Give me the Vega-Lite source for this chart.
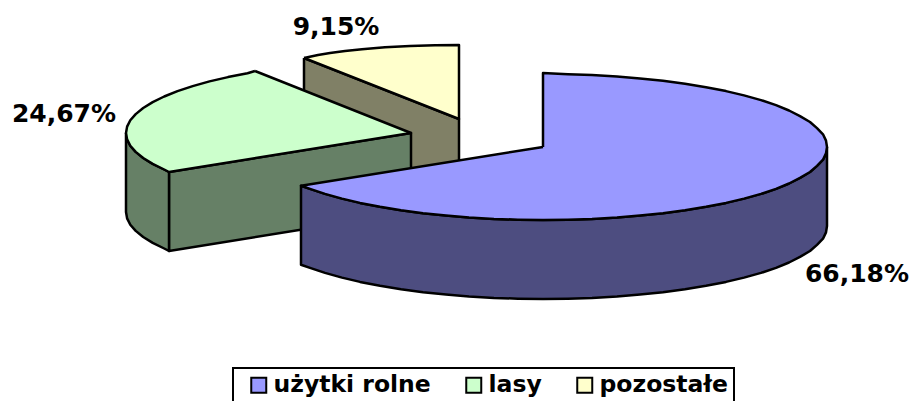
{
"$schema":"https://vega.github.io/schema/vega-lite/v6.json",
"width":912,"height":401,"padding":0,"autosize":{"type":"none"},
"background":"white",
"config":{"view":{"stroke":null},"legend":{"strokeWidth":2}},
"layer":[
{"data":{"values":[
{"part":"pozostałe bok","n":1,"x":304,"y":58},{"part":"pozostałe bok","n":2,"x":459,"y":119},{"part":"pozostałe bok","n":3,"x":459,"y":198},{"part":"pozostałe bok","n":4,"x":304,"y":137},{"part":"pozostałe bok","n":5,"x":304,"y":58},
{"part":"pozostałe","n":1,"x":304,"y":58},{"part":"pozostałe","n":2,"x":318,"y":55},{"part":"pozostałe","n":3,"x":330,"y":53},{"part":"pozostałe","n":4,"x":345,"y":51},{"part":"pozostałe","n":5,"x":362,"y":49.3},{"part":"pozostałe","n":6,"x":385,"y":47.2},{"part":"pozostałe","n":7,"x":410,"y":46},{"part":"pozostałe","n":8,"x":435,"y":45.2},{"part":"pozostałe","n":9,"x":459,"y":45},{"part":"pozostałe","n":10,"x":459,"y":119},{"part":"pozostałe","n":11,"x":304,"y":58},
{"part":"lasy bok wewn","n":1,"x":169,"y":172},{"part":"lasy bok wewn","n":2,"x":411,"y":133},{"part":"lasy bok wewn","n":3,"x":411,"y":212},{"part":"lasy bok wewn","n":4,"x":169,"y":251},{"part":"lasy bok wewn","n":5,"x":169,"y":172},
{"part":"lasy bok","n":1,"x":126,"y":133},{"part":"lasy bok","n":2,"x":127.1,"y":139.4},{"part":"lasy bok","n":3,"x":130.3,"y":145.7},{"part":"lasy bok","n":4,"x":135.7,"y":151.9},{"part":"lasy bok","n":5,"x":143.2,"y":158},{"part":"lasy bok","n":6,"x":152.7,"y":163.9},{"part":"lasy bok","n":7,"x":164.2,"y":169.5},{"part":"lasy bok","n":8,"x":169,"y":172},{"part":"lasy bok","n":9,"x":169,"y":251},{"part":"lasy bok","n":10,"x":164.2,"y":248.5},{"part":"lasy bok","n":11,"x":152.7,"y":242.9},{"part":"lasy bok","n":12,"x":143.2,"y":237},{"part":"lasy bok","n":13,"x":135.7,"y":230.9},{"part":"lasy bok","n":14,"x":130.3,"y":224.7},{"part":"lasy bok","n":15,"x":127.1,"y":218.4},{"part":"lasy bok","n":16,"x":126,"y":212},{"part":"lasy bok","n":17,"x":126,"y":133},
{"part":"lasy","n":1,"x":255,"y":71},{"part":"lasy","n":2,"x":247.5,"y":73.2},{"part":"lasy","n":3,"x":228,"y":77.1},{"part":"lasy","n":4,"x":209.5,"y":81.4},{"part":"lasy","n":5,"x":192.7,"y":86.1},{"part":"lasy","n":6,"x":177.5,"y":91.1},{"part":"lasy","n":7,"x":164.2,"y":96.5},{"part":"lasy","n":8,"x":152.7,"y":102.1},{"part":"lasy","n":9,"x":143.2,"y":108},{"part":"lasy","n":10,"x":135.7,"y":114.1},{"part":"lasy","n":11,"x":130.3,"y":120.3},{"part":"lasy","n":12,"x":127.1,"y":126.6},{"part":"lasy","n":13,"x":126,"y":133},{"part":"lasy","n":14,"x":127.1,"y":139.4},{"part":"lasy","n":15,"x":130.3,"y":145.7},{"part":"lasy","n":16,"x":135.7,"y":151.9},{"part":"lasy","n":17,"x":143.2,"y":158},{"part":"lasy","n":18,"x":152.7,"y":163.9},{"part":"lasy","n":19,"x":164.2,"y":169.5},{"part":"lasy","n":20,"x":169,"y":172},{"part":"lasy","n":21,"x":411,"y":133},{"part":"lasy","n":22,"x":255,"y":71},
{"part":"użytki rolne bok","n":1,"x":827,"y":147},{"part":"użytki rolne bok","n":2,"x":826,"y":153.4},{"part":"użytki rolne bok","n":3,"x":823,"y":159.7},{"part":"użytki rolne bok","n":4,"x":817,"y":165.9},{"part":"użytki rolne bok","n":5,"x":810,"y":172},{"part":"użytki rolne bok","n":6,"x":800,"y":177.9},{"part":"użytki rolne bok","n":7,"x":789,"y":183.5},{"part":"użytki rolne bok","n":8,"x":776,"y":188.9},{"part":"użytki rolne bok","n":9,"x":761,"y":193.9},{"part":"użytki rolne bok","n":10,"x":744,"y":198.6},{"part":"użytki rolne bok","n":11,"x":726,"y":202.9},{"part":"użytki rolne bok","n":12,"x":706,"y":206.8},{"part":"użytki rolne bok","n":13,"x":685,"y":210.2},{"part":"użytki rolne bok","n":14,"x":663,"y":213.2},{"part":"użytki rolne bok","n":15,"x":640,"y":215.6},{"part":"użytki rolne bok","n":16,"x":617,"y":217.5},{"part":"użytki rolne bok","n":17,"x":592,"y":218.9},{"part":"użytki rolne bok","n":18,"x":568,"y":219.7},{"part":"użytki rolne bok","n":19,"x":543,"y":220},{"part":"użytki rolne bok","n":20,"x":518,"y":219.7},{"part":"użytki rolne bok","n":21,"x":494,"y":218.9},{"part":"użytki rolne bok","n":22,"x":469,"y":217.5},{"part":"użytki rolne bok","n":23,"x":446,"y":215.6},{"part":"użytki rolne bok","n":24,"x":423,"y":213.2},{"part":"użytki rolne bok","n":25,"x":401,"y":210.2},{"part":"użytki rolne bok","n":26,"x":380,"y":206.8},{"part":"użytki rolne bok","n":27,"x":360,"y":202.9},{"part":"użytki rolne bok","n":28,"x":342,"y":198.6},{"part":"użytki rolne bok","n":29,"x":325,"y":193.9},{"part":"użytki rolne bok","n":30,"x":310,"y":188.9},{"part":"użytki rolne bok","n":31,"x":301,"y":185.7},{"part":"użytki rolne bok","n":32,"x":301,"y":264.7},{"part":"użytki rolne bok","n":33,"x":310,"y":267.9},{"part":"użytki rolne bok","n":34,"x":325,"y":272.9},{"part":"użytki rolne bok","n":35,"x":342,"y":277.6},{"part":"użytki rolne bok","n":36,"x":360,"y":281.9},{"part":"użytki rolne bok","n":37,"x":380,"y":285.8},{"part":"użytki rolne bok","n":38,"x":401,"y":289.2},{"part":"użytki rolne bok","n":39,"x":423,"y":292.2},{"part":"użytki rolne bok","n":40,"x":446,"y":294.6},{"part":"użytki rolne bok","n":41,"x":469,"y":296.5},{"part":"użytki rolne bok","n":42,"x":494,"y":297.9},{"part":"użytki rolne bok","n":43,"x":518,"y":298.7},{"part":"użytki rolne bok","n":44,"x":543,"y":299},{"part":"użytki rolne bok","n":45,"x":568,"y":298.7},{"part":"użytki rolne bok","n":46,"x":592,"y":297.9},{"part":"użytki rolne bok","n":47,"x":617,"y":296.5},{"part":"użytki rolne bok","n":48,"x":640,"y":294.6},{"part":"użytki rolne bok","n":49,"x":663,"y":292.2},{"part":"użytki rolne bok","n":50,"x":685,"y":289.2},{"part":"użytki rolne bok","n":51,"x":706,"y":285.8},{"part":"użytki rolne bok","n":52,"x":726,"y":281.9},{"part":"użytki rolne bok","n":53,"x":744,"y":277.6},{"part":"użytki rolne bok","n":54,"x":761,"y":272.9},{"part":"użytki rolne bok","n":55,"x":776,"y":267.9},{"part":"użytki rolne bok","n":56,"x":789,"y":262.5},{"part":"użytki rolne bok","n":57,"x":800,"y":256.9},{"part":"użytki rolne bok","n":58,"x":810,"y":251},{"part":"użytki rolne bok","n":59,"x":817,"y":244.9},{"part":"użytki rolne bok","n":60,"x":823,"y":238.7},{"part":"użytki rolne bok","n":61,"x":826,"y":232.4},{"part":"użytki rolne bok","n":62,"x":827,"y":226},{"part":"użytki rolne bok","n":63,"x":827,"y":147},
{"part":"użytki rolne","n":1,"x":543,"y":147},{"part":"użytki rolne","n":2,"x":543,"y":73},{"part":"użytki rolne","n":3,"x":568,"y":74.3},{"part":"użytki rolne","n":4,"x":592,"y":75.1},{"part":"użytki rolne","n":5,"x":617,"y":76.5},{"part":"użytki rolne","n":6,"x":640,"y":78.4},{"part":"użytki rolne","n":7,"x":663,"y":80.8},{"part":"użytki rolne","n":8,"x":685,"y":83.8},{"part":"użytki rolne","n":9,"x":706,"y":87.2},{"part":"użytki rolne","n":10,"x":726,"y":91.1},{"part":"użytki rolne","n":11,"x":744,"y":95.4},{"part":"użytki rolne","n":12,"x":761,"y":100.1},{"part":"użytki rolne","n":13,"x":776,"y":105.1},{"part":"użytki rolne","n":14,"x":789,"y":110.5},{"part":"użytki rolne","n":15,"x":800,"y":116.1},{"part":"użytki rolne","n":16,"x":810,"y":122},{"part":"użytki rolne","n":17,"x":817,"y":128.1},{"part":"użytki rolne","n":18,"x":823,"y":134.3},{"part":"użytki rolne","n":19,"x":826,"y":140.6},{"part":"użytki rolne","n":20,"x":827,"y":147},{"part":"użytki rolne","n":21,"x":826,"y":153.4},{"part":"użytki rolne","n":22,"x":823,"y":159.7},{"part":"użytki rolne","n":23,"x":817,"y":165.9},{"part":"użytki rolne","n":24,"x":810,"y":172},{"part":"użytki rolne","n":25,"x":800,"y":177.9},{"part":"użytki rolne","n":26,"x":789,"y":183.5},{"part":"użytki rolne","n":27,"x":776,"y":188.9},{"part":"użytki rolne","n":28,"x":761,"y":193.9},{"part":"użytki rolne","n":29,"x":744,"y":198.6},{"part":"użytki rolne","n":30,"x":726,"y":202.9},{"part":"użytki rolne","n":31,"x":706,"y":206.8},{"part":"użytki rolne","n":32,"x":685,"y":210.2},{"part":"użytki rolne","n":33,"x":663,"y":213.2},{"part":"użytki rolne","n":34,"x":640,"y":215.6},{"part":"użytki rolne","n":35,"x":617,"y":217.5},{"part":"użytki rolne","n":36,"x":592,"y":218.9},{"part":"użytki rolne","n":37,"x":568,"y":219.7},{"part":"użytki rolne","n":38,"x":543,"y":220},{"part":"użytki rolne","n":39,"x":518,"y":219.7},{"part":"użytki rolne","n":40,"x":494,"y":218.9},{"part":"użytki rolne","n":41,"x":469,"y":217.5},{"part":"użytki rolne","n":42,"x":446,"y":215.6},{"part":"użytki rolne","n":43,"x":423,"y":213.2},{"part":"użytki rolne","n":44,"x":401,"y":210.2},{"part":"użytki rolne","n":45,"x":380,"y":206.8},{"part":"użytki rolne","n":46,"x":360,"y":202.9},{"part":"użytki rolne","n":47,"x":342,"y":198.6},{"part":"użytki rolne","n":48,"x":325,"y":193.9},{"part":"użytki rolne","n":49,"x":310,"y":188.9},{"part":"użytki rolne","n":50,"x":301,"y":185.7},{"part":"użytki rolne","n":51,"x":543,"y":147}
]},
"mark":{"type":"line","stroke":"black","strokeWidth":2.5,"strokeJoin":"round","clip":false,"interpolate":"linear"},
"encoding":{
"x":{"field":"x","type":"quantitative","axis":null,"scale":{"domain":[0,912]}},
"y":{"field":"y","type":"quantitative","axis":null,"scale":{"domain":[401,0]}},
"order":{"field":"n"},
"fill":{"field":"part","type":"nominal","sort":null,
"scale":{"domain":["użytki rolne","lasy","pozostałe","użytki rolne bok","lasy bok","lasy bok wewn","pozostałe bok"],"range":["#9999FF","#CCFFCC","#FFFFCC","#4D4D80","#668066","#668066","#808066"]},
"legend":{"values":["użytki rolne","lasy","pozostałe"],"title":null,"orient":"none","legendX":233,"legendY":368,"direction":"horizontal","columns":3,"strokeColor":"black","padding":5,"fillColor":"white","symbolType":"square","symbolSize":225,"symbolOffset":9,"symbolStrokeColor":"black","symbolStrokeWidth":2,"symbolOpacity":1,"labelFont":"DejaVu Sans","labelFontWeight":"bold","labelFontSize":23.5,"labelLimit":300,"labelColor":"black","columnPadding":22,"labelOffset":3}}
}},
{"data":{"values":[
{"label":"9,15%","x":336,"y":27},{"label":"24,67%","x":64,"y":114},{"label":"66,18%","x":857,"y":274}
]},
"mark":{"type":"text","font":"DejaVu Sans","fontWeight":"bold","fontSize":25,"color":"black","align":"center","baseline":"middle"},
"encoding":{
"x":{"field":"x","type":"quantitative","axis":null,"scale":{"domain":[0,912]}},
"y":{"field":"y","type":"quantitative","axis":null,"scale":{"domain":[401,0]}},
"text":{"field":"label"}
}}
]
}
